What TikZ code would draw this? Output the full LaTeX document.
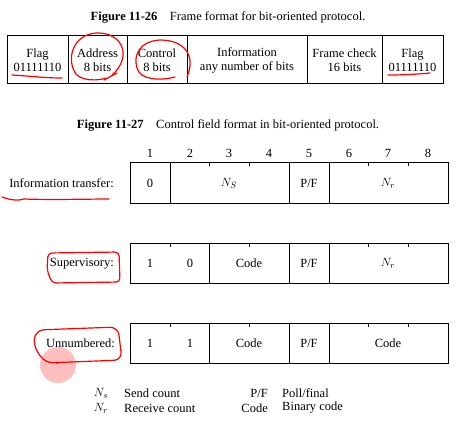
\documentclass[tikz,border=0pt]{standalone}
\usepackage{fontspec}
\setmainfont{Liberation Serif}
\begin{document}
\begin{tikzpicture}[x=1pt,y=-1pt,
  txt/.style={font=\fontsize{12.5}{14}\selectfont, inner sep=0pt},
  cell/.style={txt, align=center},
  box/.style={line width=1pt},
  pen/.style={red, line width=1.2pt, line cap=round, line join=round}]
\useasboundingbox (0,0) rectangle (460,432);

% Figure 11-26: frame
\node[txt] (capframe) at (228,17) {\textbf{Figure 11-26}\quad Frame format for bit-oriented protocol.};
\draw[box] (7,35) rectangle (443,83);
\draw[box] (68,35) -- (68,83);
\draw[box] (127,35) -- (127,83);
\draw[box] (187,35) -- (187,83);
\draw[box] (307,35) -- (307,83);
\draw[box] (382,35) -- (382,83);
\node[cell] (flagl) at (37.5,60) {Flag\\01111110};
\node[cell] (addr) at (97.5,60) {Address\\8 bits};
\node[cell] (ctrl) at (157,60) {Control\\8 bits};
\node[cell] (info) at (247,60) {Information\\any number of bits};
\node[cell] (fcs) at (344.5,60) {Frame check\\16 bits};
\node[cell] (flagr) at (412.5,60) {Flag\\01111110};

% Figure 11-27: control field
\node[txt] (capctrl) at (228,125) {\textbf{Figure 11-27}\quad Control field format in bit-oriented protocol.};
\foreach \b [count=\i] in {150,190,229,269,309,349,388,428}
  \node[txt] (bit\i) at (\b,153) {\i};

% information transfer
\node[txt, anchor=east] (linfo) at (114,183) {Information transfer:};
\draw[box] (130,162) rectangle (448,203);
\draw[box] (170,162) -- (170,203);
\draw[box] (289,162) -- (289,203);
\draw[box] (329,162) -- (329,203);
\draw (209.5,162) -- (209.5,166) (249,162) -- (249,166);
\draw (368.5,162) -- (368.5,166) (408,162) -- (408,166);
\node[txt] (izero) at (150,183) {0};
\node[txt] (ins) at (229,183) {$N_S$};
\node[txt] (ipf) at (309,183) {P/F};
\node[txt] (inr) at (388,183) {$N_r$};

% supervisory
\node[txt, anchor=east] (lsup) at (114,264) {Supervisory:};
\draw[box] (130,243) rectangle (448,283);
\draw[box] (209.5,243) -- (209.5,283);
\draw[box] (289,243) -- (289,283);
\draw[box] (329,243) -- (329,283);
\draw (170,243) -- (170,247) (249,243) -- (249,247);
\draw (368.5,243) -- (368.5,247) (408,243) -- (408,247);
\node[txt] (sone) at (150,263) {1};
\node[txt] (szero) at (190,263) {0};
\node[txt] (scode) at (249,263) {Code};
\node[txt] (spf) at (309,263) {P/F};
\node[txt] (snr) at (388,263) {$N_r$};

% unnumbered
\node[txt, anchor=east] (lun) at (115,343) {Unnumbered:};
\draw[box] (130,323) rectangle (448,363);
\draw[box] (209.5,323) -- (209.5,363);
\draw[box] (289,323) -- (289,363);
\draw[box] (329,323) -- (329,363);
\draw (170,323) -- (170,327) (249,323) -- (249,327);
\draw (368.5,323) -- (368.5,327) (408,323) -- (408,327);
\node[txt] (uone) at (150,343) {1};
\node[txt] (utwo) at (190,343) {1};
\node[txt] (ucode) at (249,343) {Code};
\node[txt] (upf) at (309,343) {P/F};
\node[txt] (ucodeb) at (388,343) {Code};

% legend
\node[txt] (kns) at (101,393) {$N_s$};
\node[txt, anchor=west] (tns) at (124,393) {Send count};
\node[txt] (knr) at (101,408) {$N_r$};
\node[txt, anchor=west] (tnr) at (124,408) {Receive count};
\node[txt, anchor=east] (kpf) at (268,393) {P/F};
\node[txt, anchor=west] (tpf) at (282,393) {Poll/final};
\node[txt, anchor=east] (kcode) at (268,408) {Code};
\node[txt, anchor=west] (tcode) at (282,408) {Binary code};

% red pen marks
\draw[pen] (12,75) .. controls (30,76) and (45,78) .. (62,78);
\draw[pen] (388,75) .. controls (405,75) and (420,74) .. (430,73);
\draw[pen] (112,75) .. controls (132,58) and (124,32) .. (96,33)
  .. controls (72,35) and (66,60) .. (76,74) .. controls (82,81) and (98,81) .. (106,78);
\draw[pen] (104,80) -- (117,73);
\draw[pen] (187,77) .. controls (196,56) and (185,40) .. (160,40)
  .. controls (140,41) and (133,55) .. (137,68) .. controls (140,80) and (160,81) .. (175,77);
\draw[pen] (2,197) .. controls (10,200) and (18,201) .. (24,199) .. controls (50,200) and (90,199) .. (109,199);
\draw[pen, rounded corners=4pt] (48,253) -- (119,252) -- (120,282) -- (52,283) -- (47,270) -- cycle;
\draw[pen, rounded corners=8pt] (36,330) -- (118,327) -- (122,360) -- (45,363) -- (33,345) -- cycle;
\fill[red, opacity=0.25] (58,365) circle (18);
\fill[red] (57,363) circle (1.2);
\end{tikzpicture}
\end{document}
